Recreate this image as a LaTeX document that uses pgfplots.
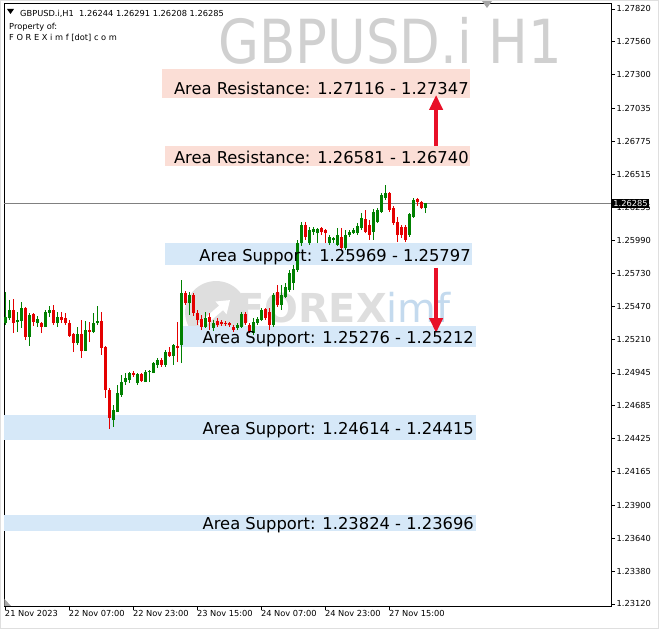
\documentclass[border=0pt]{standalone}
\usepackage{pgfplots}
\pgfplotsset{compat=1.18}
\usepackage{pgfplotstable}
\usepackage{graphicx}
\usepackage{fontspec}
\setmainfont{DejaVu Sans}
\usetikzlibrary{arrows.meta}

\definecolor{bullc}{RGB}{0,128,0}
\definecolor{bearc}{RGB}{228,0,0}
\definecolor{respink}{RGB}{251,222,214}
\definecolor{supblue}{RGB}{214,232,248}
\definecolor{arrowred}{RGB}{232,16,40}
\definecolor{wmgray}{RGB}{208,208,208}
\definecolor{logogray}{RGB}{222,222,222}
\definecolor{imfblue}{RGB}{196,218,238}

% H1 candles, x = bar number from 21 Nov 15:00
\pgfplotstableread{
x o h l c
0 1.25339 1.25584 1.25324 1.25387
1 1.25379 1.25521 1.25363 1.25442
3 1.25347 1.25426 1.25268 1.25363
4 1.25355 1.25505 1.25300 1.25458
6 1.25229 1.25418 1.25158 1.25403
8 1.25339 1.25395 1.25308 1.25371
10 1.25308 1.25442 1.25308 1.25426
11 1.25418 1.25474 1.25387 1.25442
13 1.25339 1.25426 1.25308 1.25387
18 1.25181 1.25308 1.25166 1.25253
20 1.25118 1.25355 1.25118 1.25284
22 1.25268 1.25418 1.25260 1.25339
23 1.25339 1.25474 1.25324 1.25355
27 1.24573 1.24692 1.24518 1.24652
28 1.24636 1.24850 1.24636 1.24786
29 1.24771 1.24929 1.24755 1.24873
30 1.24873 1.24944 1.24850 1.24905
31 1.24889 1.24952 1.24865 1.24944
33 1.24865 1.24944 1.24850 1.24937
35 1.24873 1.24968 1.24873 1.24952
36 1.24952 1.24968 1.24873 1.24960
37 1.24944 1.25031 1.24944 1.25023
38 1.25008 1.25063 1.24984 1.25047
40 1.25008 1.25126 1.24992 1.25110
42 1.25079 1.25174 1.25008 1.25166
44 1.25166 1.25679 1.25023 1.25576
46 1.25497 1.25584 1.25403 1.25561
50 1.25308 1.25426 1.25300 1.25379
52 1.25300 1.25363 1.25276 1.25339
58 1.25300 1.25339 1.25284 1.25324
59 1.25308 1.25426 1.25300 1.25411
62 1.25260 1.25379 1.25245 1.25347
63 1.25339 1.25387 1.25324 1.25371
64 1.25363 1.25458 1.25355 1.25442
67 1.25324 1.25576 1.25308 1.25561
69 1.25482 1.25640 1.25442 1.25561
70 1.25545 1.25655 1.25537 1.25624
71 1.25600 1.25758 1.25584 1.25734
72 1.25655 1.25798 1.25600 1.25766
73 1.25758 1.25995 1.25742 1.25971
74 1.25971 1.26137 1.25948 1.26114
76 1.25971 1.26098 1.25956 1.26074
77 1.26058 1.26098 1.26035 1.26082
78 1.26050 1.26090 1.25971 1.26082
81 1.25971 1.26035 1.25956 1.26019
82 1.25995 1.26019 1.25971 1.26011
83 1.25956 1.26090 1.25948 1.26035
85 1.25932 1.26074 1.25916 1.26035
86 1.26035 1.26074 1.26019 1.26058
87 1.26050 1.26090 1.26043 1.26074
88 1.26050 1.26129 1.26035 1.26106
89 1.26090 1.26208 1.26074 1.26169
92 1.26058 1.26240 1.25995 1.26216
93 1.26137 1.26248 1.26129 1.26232
94 1.26216 1.26366 1.26208 1.26351
95 1.26327 1.26430 1.26311 1.26366
101 1.26035 1.26208 1.26019 1.26201
102 1.26177 1.26327 1.26169 1.26311
105 1.26244 1.26291 1.26208 1.26285
}\bull

\pgfplotstableread{
x o h l c
2 1.25442 1.25529 1.25260 1.25339
5 1.25458 1.25466 1.25205 1.25229
7 1.25411 1.25418 1.25316 1.25347
9 1.25339 1.25347 1.25260 1.25308
12 1.25442 1.25482 1.25324 1.25339
14 1.25387 1.25426 1.25339 1.25363
15 1.25379 1.25418 1.25324 1.25339
16 1.25339 1.25363 1.25229 1.25237
17 1.25253 1.25260 1.25110 1.25181
19 1.25253 1.25363 1.25063 1.25118
21 1.25284 1.25347 1.25189 1.25268
24 1.25355 1.25426 1.25087 1.25142
25 1.25150 1.25158 1.24747 1.24810
26 1.24810 1.24826 1.24502 1.24589
32 1.24944 1.24960 1.24913 1.24929
34 1.24937 1.24944 1.24873 1.24881
39 1.25047 1.25063 1.24992 1.25008
41 1.25110 1.25150 1.25071 1.25079
43 1.25158 1.25347 1.25031 1.25142
45 1.25576 1.25592 1.25482 1.25497
47 1.25561 1.25576 1.25395 1.25418
48 1.25418 1.25442 1.25324 1.25363
49 1.25371 1.25403 1.25284 1.25308
51 1.25387 1.25418 1.25284 1.25347
53 1.25355 1.25379 1.25308 1.25324
54 1.25347 1.25363 1.25316 1.25332
55 1.25339 1.25355 1.25316 1.25332
56 1.25339 1.25347 1.25308 1.25324
57 1.25308 1.25324 1.25268 1.25284
60 1.25411 1.25426 1.25324 1.25339
61 1.25324 1.25339 1.25260 1.25268
65 1.25450 1.25458 1.25363 1.25379
66 1.25426 1.25458 1.25284 1.25324
68 1.25584 1.25640 1.25466 1.25482
75 1.26114 1.26137 1.25995 1.26019
79 1.26090 1.26098 1.26035 1.26058
80 1.26074 1.26082 1.25971 1.26050
84 1.26019 1.26090 1.25916 1.25932
90 1.26161 1.26232 1.26050 1.26058
91 1.26114 1.26153 1.25995 1.26035
96 1.26366 1.26374 1.26216 1.26232
97 1.26248 1.26264 1.26114 1.26129
98 1.26137 1.26177 1.25979 1.26035
99 1.26098 1.26114 1.26011 1.26035
100 1.26098 1.26114 1.25979 1.25995
103 1.26319 1.26327 1.26264 1.26295
104 1.26295 1.26303 1.26240 1.26244
}\bear

\pgfplotsset{candle/.style 2 args={draw=none, mark=none, forget plot,
  error bars/.cd, y dir=plus, y explicit, error mark=none,
  error bar style={line width=#1, draw=#2}}}

\begin{document}
\begin{tikzpicture}
\useasboundingbox (0,0) rectangle (659bp,629bp);
\begin{axis}[
  at={(4bp,23bp)}, anchor=south west,
  scale only axis, width=607bp, height=603bp,
  xmin=-0.325, xmax=151.425, ymin=1.23104, ymax=1.27867,
  clip=false,
  axis line style={black, line width=0.8bp},
  tick style={black, line width=0.8bp},
  major tick length=4bp,
  tick align=outside,
  xtick pos=bottom, ytick pos=right, yticklabel pos=right,
  xtick={0,16,32,48,64,80,96},
  xticklabels={21 Nov 2023,22 Nov 07:00,22 Nov 23:00,23 Nov 15:00,24 Nov 07:00,24 Nov 23:00,27 Nov 15:00},
  xticklabel style={anchor=north west, xshift=-2bp, yshift=1bp, inner sep=1.5bp},
  ytick={1.23120,1.23380,1.23640,1.23900,1.24165,1.24425,1.24685,1.24945,1.25210,1.25470,1.25730,1.25990,1.26255,1.26515,1.26775,1.27035,1.27300,1.27560,1.27820},
  yticklabels={1.23120,1.23380,1.23640,1.23900,1.24165,1.24425,1.24685,1.24945,1.25210,1.25470,1.25730,1.25990,1.26255,1.26515,1.26775,1.27035,1.27300,1.27560,1.27820},
  yticklabel style={anchor=west, inner sep=1.5bp},
  ticklabel style={font=\fontsize{8.3}{9}\selectfont},
]
% watermarks
\node[anchor=base, text=wmgray, font=\fontsize{61}{61}\selectfont, inner sep=0] at (axis cs:96.2,1.27393) {\scalebox{0.87}[1]{GBPUSD.i H1}};
\fill[logogray] (axis cs:52.7,1.25426) circle[radius=31bp];
\draw[white, line width=6bp, -{Triangle[width=16bp,length=12bp]}] ([shift={(-16bp,-14bp)}]axis cs:52.7,1.25426) -- ([shift={(14bp,12bp)}]axis cs:52.7,1.25426);
\node[anchor=base west, inner sep=0, font=\fontsize{40}{40}\selectfont] at (axis cs:57.9,1.25347) {\textcolor{logogray}{\bfseries FOREX}\textcolor{imfblue}{imf}};

% zones
\fill[respink] (axis cs:39.2,1.27347) rectangle (axis cs:116.2,1.27116);
\fill[respink] (axis cs:39.9,1.26740) rectangle (axis cs:116.2,1.26581);
\fill[supblue] (axis cs:39.9,1.25969) rectangle (axis cs:116.7,1.25797);
\fill[supblue] (axis cs:43.7,1.25316) rectangle (axis cs:117.7,1.25150);
\fill[supblue] (axis cs:-0.325,1.24614) rectangle (axis cs:117.7,1.24415);
\fill[supblue] (axis cs:-0.325,1.23824) rectangle (axis cs:117.7,1.23696);

% bid line
\addplot[gray, line width=0.6bp, forget plot] coordinates {(-0.325,1.26285) (151.425,1.26285)};

% wicks
\addplot[candle={1bp}{bullc}]
  table[x=x, y=l, y error expr=\thisrow{h}-\thisrow{l}] {\bull};
\addplot[candle={1bp}{bearc}]
  table[x=x, y=l, y error expr=\thisrow{h}-\thisrow{l}] {\bear};
% bodies
\addplot[candle={3bp}{bullc}]
  table[x=x, y=o, y error expr=\thisrow{c}-\thisrow{o}] {\bull};
\addplot[candle={3bp}{bearc}]
  table[x=x, y=c, y error expr=\thisrow{o}-\thisrow{c}] {\bear};

% arrows
\draw[arrowred, line width=4bp, -{Triangle[width=13bp,length=15bp]}] (axis cs:107.7,1.26738) -- (axis cs:107.7,1.27141);
\draw[arrowred, line width=4bp, -{Triangle[width=13bp,length=15bp]}] (axis cs:107.7,1.25774) -- (axis cs:107.7,1.25260);

% zone labels
\begin{scope}[every node/.style={anchor=base east, inner sep=0, font=\fontsize{16.4}{18}\selectfont}]
\node at (axis cs:115.9,1.27145) {Area Resistance: 1.27116 - 1.27347};
\node at (axis cs:115.9,1.26599) {Area Resistance: 1.26581 - 1.26740};
\node at (axis cs:116.4,1.25825) {Area Support: 1.25969 - 1.25797};
\node at (axis cs:117.2,1.25177) {Area Support: 1.25276 - 1.25212};
\node at (axis cs:117.2,1.24458) {Area Support: 1.24614 - 1.24415};
\node at (axis cs:117.2,1.23708) {Area Support: 1.23824 - 1.23696};
\end{scope}
\coordinate (bidlbl) at (axis cs:151.425,1.26285);
\end{axis}

\node[anchor=west, fill=black, text=white, inner sep=1.2bp, xshift=1bp, font=\fontsize{8.3}{9}\selectfont] at (bidlbl) {1.26285};

\begin{scope}[x=1bp, y=1bp]
\fill (7,620) -- (14,620) -- (10.5,615) -- cycle;
\node[anchor=base west, inner sep=0, font=\fontsize{8.3}{9}\selectfont] at (20,612.5) {GBPUSD.i,H1\ \ 1.26244 1.26291 1.26208 1.26285};
\node[anchor=base west, inner sep=0, font=\fontsize{8.3}{9}\selectfont] at (9,599.5) {Property of:};
\node[anchor=base west, inner sep=0, font=\fontsize{8.3}{9}\selectfont] at (9,588.5) {F O R E X i m f [dot] c o m};
\fill[gray!70] (482,628) -- (492,628) -- (487,621) -- cycle;
\fill[gray!70] (4.5,23) -- (4.5,30) -- (11,23) -- cycle;
\draw[gray!25, line width=1.5bp] (0.75,0.75) rectangle (658.25,628.25);
\end{scope}
\end{tikzpicture}
\end{document}
